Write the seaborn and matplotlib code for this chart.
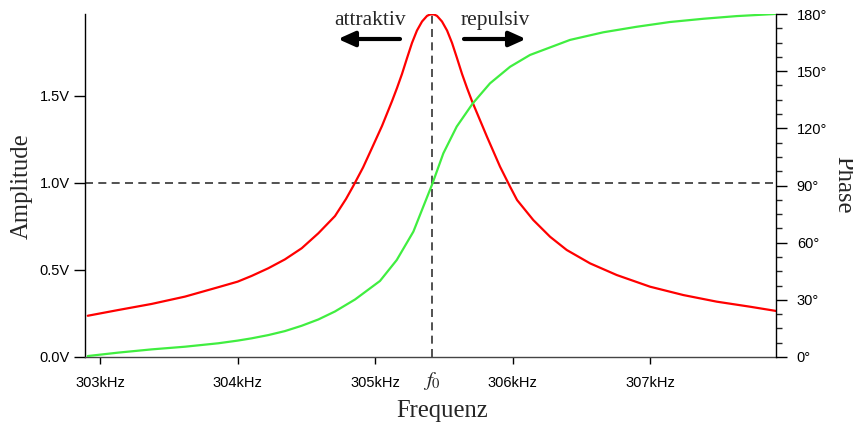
import matplotlib
matplotlib.use("Agg")
import matplotlib.pyplot as plt
from matplotlib.ticker import FixedLocator, MultipleLocator
import seaborn as sns

# Resonance curve of a driven oscillator: amplitude and phase versus drive frequency
freq_amp = [302.911, 303.133, 303.376, 303.618, 303.860, 304.001, 304.103, 304.224,
            304.345, 304.467, 304.588, 304.709, 304.789, 304.840, 304.913, 304.978,
            305.051, 305.124, 305.160, 305.196, 305.233, 305.269, 305.305, 305.342,
            305.378, 305.396, 305.415, 305.433, 305.451, 305.487, 305.524, 305.560,
            305.596, 305.633, 305.669, 305.705, 305.814, 305.909, 305.982, 306.033,
            306.151, 306.273, 306.394, 306.564, 306.758, 307.000, 307.242, 307.485,
            307.727, 307.921]
amplitude = [0.237, 0.270, 0.305, 0.347, 0.401, 0.433, 0.466, 0.510,
             0.561, 0.625, 0.711, 0.810, 0.908, 0.980, 1.089, 1.201,
             1.328, 1.471, 1.546, 1.626, 1.718, 1.805, 1.876, 1.928,
             1.960, 1.967, 1.970, 1.967, 1.960, 1.928, 1.876, 1.805,
             1.718, 1.626, 1.546, 1.471, 1.266, 1.094, 0.979, 0.902,
             0.787, 0.691, 0.615, 0.538, 0.471, 0.404, 0.356, 0.318,
             0.289, 0.264]

freq_phase = [302.911, 303.133, 303.376, 303.618, 303.860, 304.001, 304.103, 304.224,
              304.345, 304.467, 304.588, 304.709, 304.855, 305.036, 305.158, 305.279,
              305.351, 305.415, 305.497, 305.594, 305.711, 305.836, 305.982, 306.127,
              306.418, 306.660, 306.903, 307.145, 307.388, 307.630, 307.909]
phase = [0.5, 2.3, 4.0, 5.4, 7.2, 8.6, 9.8, 11.5,
         13.6, 16.4, 19.7, 23.9, 30.2, 39.9, 50.9, 65.8,
         78.9, 90.5, 106.9, 120.9, 133.1, 143.6, 152.3, 158.5,
         166.4, 170.4, 173.3, 175.8, 177.5, 178.9, 180.0]

f0 = 305.415
freq_ticks = [303, 304, 305, 306, 307]
freq_labels = ["303kHz", "304kHz", "305kHz", "306kHz", "307kHz"]
amp_ticks = [0.0, 0.5, 1.0, 1.5]
amp_labels = ["0.0V", "0.5V", "1.0V", "1.5V"]
phase_ticks = [0, 30, 60, 90, 120, 150, 180]
phase_labels = ["0°", "30°", "60°", "90°", "120°", "150°", "180°"]

sns.set_style("white")
plt.rcParams["font.family"] = ["Liberation Sans", "DejaVu Sans"]
plt.rcParams["mathtext.fontset"] = "stix"

W, H = 854, 426
fig = plt.figure(figsize=(W / 100, H / 100), dpi=100)
ax = fig.add_axes([85 / W, 1 - 357 / H, 691 / W, 343 / H])
ax2 = ax.twinx()

sns.lineplot(x=freq_amp, y=amplitude, ax=ax, color="#ff0000", lw=1.6,
             sort=False, estimator=None)
sns.lineplot(x=freq_phase, y=phase, ax=ax2, color="#40ee40", lw=1.6,
             sort=False, estimator=None)

ax.set_xlim(302.891, 307.916)
ax.set_ylim(0, 1.971)
ax2.set_ylim(0, 180)

# guide lines through the resonance point
dash = (0, (4.8, 3.2))
ax.axhline(1.0, color="#333333", lw=1.2, ls=dash, zorder=1)
ax.axvline(f0, color="#333333", lw=1.2, ls=dash, zorder=1)

# spines
for a in (ax, ax2):
    a.spines["top"].set_visible(False)
ax.spines["right"].set_visible(False)
ax2.spines["left"].set_visible(False)
ax2.spines["bottom"].set_visible(False)
ax.spines["left"].set_color("black")
ax.spines["bottom"].set_color("#444444")
ax2.spines["right"].set_color("black")
for s in (ax.spines["left"], ax.spines["bottom"], ax2.spines["right"]):
    s.set_linewidth(1.0)

# ticks
ax.xaxis.set_major_locator(FixedLocator(freq_ticks))
ax.set_xticklabels(freq_labels)
ax.yaxis.set_major_locator(FixedLocator(amp_ticks))
ax.set_yticklabels(amp_labels)
ax2.yaxis.set_major_locator(FixedLocator(phase_ticks))
ax2.set_yticklabels(phase_labels)
ax2.yaxis.set_minor_locator(MultipleLocator(7.5))

ax.tick_params(axis="x", direction="out", length=5, width=1, pad=9,
               labelsize=10.5, colors="black", bottom=True)
ax.tick_params(axis="y", direction="out", length=8, width=1, pad=3,
               labelsize=10.5, colors="black", left=True)
ax2.tick_params(axis="y", which="major", direction="out", length=8, width=1,
                pad=7, labelsize=10.5, colors="black", right=True)
ax2.tick_params(axis="y", which="minor", direction="out", length=4, width=1,
                right=True)
ax.set_xlabel("")
ax.set_ylabel("")
ax2.set_ylabel("")

# axis titles
serif = ["Liberation Serif", "DejaVu Serif"]
fig.text(22 / W, 1 - 186 / H, "Amplitude", rotation=90, ha="center", va="center",
         fontsize=17.7, family=serif)
fig.text(843 / W, 1 - 185 / H, "Phase", rotation=270, ha="center", va="center",
         fontsize=17.7, family=serif)
fig.text(442 / W, 1 - 417 / H, "Frequenz", ha="center", va="baseline",
         fontsize=17.7, family=serif)
fig.text(432 / W, 1 - 381 / H, r"$f_0$", ha="center", va="center", fontsize=15)

# direction annotations
fig.text(370 / W, 1 - 25 / H, "attraktiv", ha="center", va="baseline",
         fontsize=15.5, family=serif)
fig.text(495 / W, 1 - 25 / H, "repulsiv", ha="center", va="baseline",
         fontsize=15.5, family=serif)
arrow_kw = dict(arrowstyle="-|>,head_length=1.0,head_width=0.45", lw=3,
                color="black", shrinkA=0, shrinkB=0, mutation_scale=10)
ax.annotate("", xy=(338 / W, 1 - 39 / H), xytext=(400 / W, 1 - 39 / H),
            xycoords="figure fraction", textcoords="figure fraction",
            arrowprops=arrow_kw)
ax.annotate("", xy=(526 / W, 1 - 39 / H), xytext=(464 / W, 1 - 39 / H),
            xycoords="figure fraction", textcoords="figure fraction",
            arrowprops=arrow_kw)

fig.savefig("out.png", dpi=100)
